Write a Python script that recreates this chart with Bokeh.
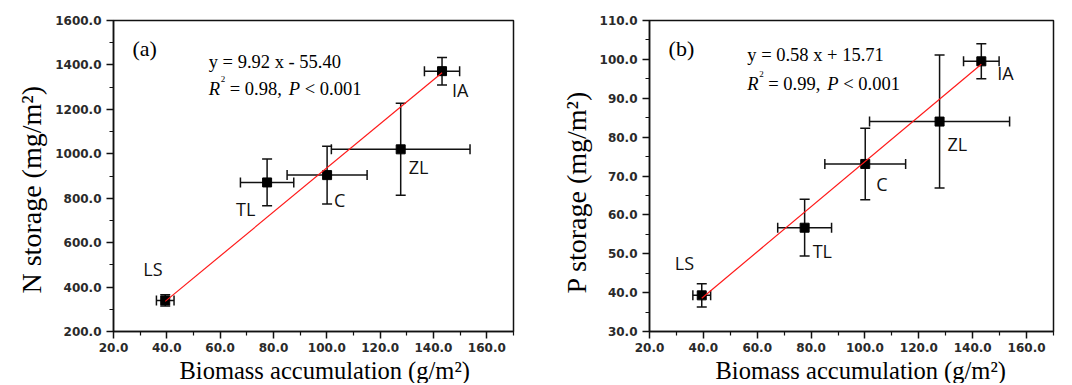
from bokeh.plotting import figure
from bokeh.models import (ColumnDataSource, Whisker, TeeHead, FixedTicker,
                          NumeralTickFormatter, Label, Range1d, Title)
from bokeh.layouts import row
from bokeh.embed import file_html
from bokeh.resources import INLINE
from bokeh.core.properties import value

# ---------------- data ----------------
sites = ["LS", "TL", "C", "ZL", "IA"]
biomass = [39.4, 77.6, 100.1, 127.7, 143.2]          # g/m2
biomass_err = [3.3, 10.0, 15.0, 26.0, 6.6]
n_storage = [340, 871, 904, 1020, 1372]               # mg/m2
n_err = [25, 105, 130, 207, 62]
p_storage = [39.3, 56.7, 73.1, 84.0, 99.5]            # mg/m2
p_err = [3.0, 7.3, 9.2, 17.1, 4.5]

n_fit = (9.92, -55.40)
p_fit = (0.58, 15.71)

x_ticks = [20, 40, 60, 80, 100, 120, 140, 160]
x_minor = [30, 50, 70, 90, 110, 130, 150, 170]
n_ticks = [200, 400, 600, 800, 1000, 1200, 1400, 1600]
n_minor = [300, 500, 700, 900, 1100, 1300, 1500]
p_ticks = [30, 40, 50, 60, 70, 80, 90, 100, 110]
p_minor = [35, 45, 55, 65, 75, 85, 95, 105]

x_title = "Biomass accumulation (g/m²)"

# label offsets in screen px (dx right, dy down)
n_label_off = {"LS": (-22, -31), "TL": (-31, 27), "C": (7, 25), "ZL": (8, 18), "IA": (10, 19)}
p_label_off = {"LS": (-27, -32), "TL": (8, 23), "C": (11, 20), "ZL": (8, 22), "IA": (16, 12)}

SERIF = "Liberation Serif"
TICKF = "DejaVu Sans"
LAB = "Open Sans"
INK = "#111111"


def make_panel(ys, yerr, fit, yticks, yminor, yrange, ylabel, tag, eq, r2, offs,
               tag_pos, eq_pos, eq2_pos, y_standoff, mb_left, mb_right, fw):
    p = figure(frame_width=fw, frame_height=311, output_backend="svg",
               toolbar_location=None, x_range=Range1d(20, 170),
               y_range=Range1d(*yrange), min_border_left=mb_left,
               min_border_right=mb_right, min_border_top=20, min_border_bottom=0)
    p.background_fill_color = "white"
    p.border_fill_color = "white"
    p.grid.visible = False
    p.outline_line_color = INK
    p.outline_line_width = 1.5

    for ax in (p.xaxis[0], p.yaxis[0]):
        ax.axis_line_width = 1.5
        ax.axis_line_color = INK
        ax.major_tick_line_color = INK
        ax.minor_tick_line_color = INK
        ax.major_tick_line_width = 1.5
        ax.minor_tick_line_width = 1.2
        ax.major_tick_out = 7
        ax.major_tick_in = 0
        ax.minor_tick_out = 4
        ax.minor_tick_in = 0
        ax.major_label_text_font = TICKF
        ax.major_label_text_font_size = "12px"
        ax.major_label_text_font_style = "bold"
        ax.major_label_text_color = "#2a2a2a"
        ax.formatter = NumeralTickFormatter(format="0.0")

    p.xaxis[0].ticker = FixedTicker(ticks=x_ticks, minor_ticks=x_minor)
    p.yaxis[0].ticker = FixedTicker(ticks=yticks, minor_ticks=yminor)
    p.xaxis[0].major_label_standoff = 4

    # axis titles
    p.add_layout(Title(text=x_title, text_font=SERIF, text_font_size="24.5px",
                       text_font_style="normal", text_color="black",
                       align="left", offset=66, standoff=0), "below")
    p.add_layout(Title(text=ylabel, text_font=SERIF, text_font_size="28px",
                       text_font_style="normal", text_color="black",
                       align="left", offset=38, standoff=y_standoff), "left")

    src = ColumnDataSource(dict(
        x=biomass, y=ys,
        xl=[a - b for a, b in zip(biomass, biomass_err)],
        xu=[a + b for a, b in zip(biomass, biomass_err)],
        yl=[a - b for a, b in zip(ys, yerr)],
        yu=[a + b for a, b in zip(ys, yerr)],
        name=sites,
        dx=[offs[s][0] for s in sites],
        dy=[offs[s][1] for s in sites],
    ))

    def head():
        return TeeHead(size=10, line_color=INK, line_width=1.5)

    p.add_layout(Whisker(source=src, base="y", lower="xl", upper="xu",
                         dimension="width", line_color=INK, line_width=1.5,
                         lower_head=head(), upper_head=head()))
    p.add_layout(Whisker(source=src, base="x", lower="yl", upper="yu",
                         dimension="height", line_color=INK, line_width=1.5,
                         lower_head=head(), upper_head=head()))

    p.scatter("x", "y", source=src, marker="square", size=9,
              fill_color="black", line_color="black")

    x0, x1 = min(biomass), max(biomass)
    p.line([x0, x1], [fit[0] * x0 + fit[1], fit[0] * x1 + fit[1]],
           line_color="#ff1a1a", line_width=1.2)

    p.text("x", "y", text="name", source=src, x_offset="dx", y_offset="dy",
           text_font=value(LAB), text_font_size="18px", text_color="#111111",
           text_align="left", text_baseline="middle")

    p.add_layout(Label(x=tag_pos[0], y=tag_pos[1], text=tag, text_font=SERIF,
                       text_font_size="22px", text_baseline="middle",
                       text_align="left", text_color="black"))
    p.add_layout(Label(x=eq_pos[0], y=eq_pos[1], text=eq, text_font=SERIF,
                       text_font_size="18.5px", text_baseline="alphabetic",
                       text_align="left", text_color="black"))
    # second line: R^2 = ..., P < 0.001 with italics
    parts = [("R", "italic", "18.5px", 0, 0),
             ("2", "normal", "9px", 12, 10),
             ("= " + r2 + ",", "normal", "18.5px", 21, 0),
             ("P", "italic", "18.5px", 80, 0),
             ("< 0.001", "normal", "18.5px", 96, 0)]
    for txt, style, fs, dx, dy in parts:
        p.add_layout(Label(x=eq2_pos[0], y=eq2_pos[1], x_offset=dx, y_offset=dy,
                           text=txt, text_font=SERIF, text_font_style=style,
                           text_font_size=fs, text_baseline="alphabetic",
                           text_align="left", text_color="black"))
    return p


pa = make_panel(n_storage, n_err, n_fit, n_ticks, n_minor, (200, 1600),
                "N storage (mg/m²)", "(a)", "y = 9.92 x - 55.40", "0.98",
                n_label_off, (27.1, 1476), (55.7, 1412), (55.7, 1293),
                12, 113, 20, 400)
pb = make_panel(p_storage, p_err, p_fit, p_ticks, p_minor, (30, 110),
                "P storage (mg/m²)", "(b)", "y = 0.58 x + 15.71", "0.99",
                p_label_off, (27.1, 102.9), (56.3, 101.0), (56.3, 93.7),
                10, 116, 10, 404)

layout = row(pa, pb)
open("out.html", "w").write(file_html(layout, INLINE))
